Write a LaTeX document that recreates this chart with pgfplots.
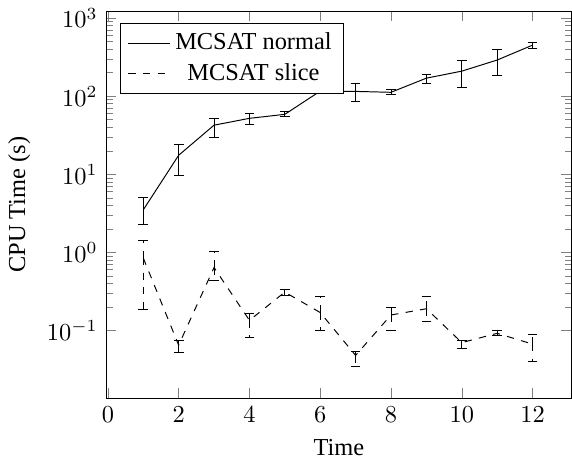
\documentclass[border=0pt]{standalone}
\usepackage{fontspec}
\setmainfont{Liberation Serif}
\usepackage{pgfplots}
\pgfplotsset{compat=1.18}
\begin{document}
\begin{tikzpicture}
\begin{axis}[
  scale only axis,
  width=191pt, height=159pt,
  ymode=log,
  xmin=-0.05, xmax=13.1,
  ymin=0.0135, ymax=1230,
  xtick={0,2,4,6,8,10,12},
  ytick={0.1,1,10,100,1000},
  xlabel={Time},
  ylabel={CPU Time (s)},
  legend pos=north west,
  legend cell align=center,
]
\addplot+[black, solid, no markers, error bars/.cd, y dir=both, y explicit]
  table[x=x, y=y, y error plus=ep, y error minus=em] {
x y ep em
1 3.5 1.5 1.2
2 17.5 6.5 7.8
3 42.5 9.5 12.5
4 52 8 8
5 58.5 5.5 3.5
6 116 6 6
7 115 32 29
8 112 10 6
9 170 21 23
10 209 81 79
11 290 100 105
12 450 40 40
};
\addlegendentry{MCSAT normal}
\addplot+[black, dashed, no markers, error bars/.cd, y dir=both, y explicit]
  table[x=x, y=y, y error plus=ep, y error minus=em] {
x y ep em
1 0.85 0.59 0.664
2 0.065 0.01 0.012
3 0.64 0.38 0.20
4 0.135 0.03 0.054
5 0.31 0.03 0.03
6 0.17 0.10 0.07
7 0.048 0.006 0.013
8 0.158 0.042 0.058
9 0.19 0.08 0.06
10 0.07 0.005 0.011
11 0.092 0.008 0.006
12 0.067 0.022 0.027
};
\addlegendentry{MCSAT slice}
\end{axis}
\end{tikzpicture}
\end{document}
